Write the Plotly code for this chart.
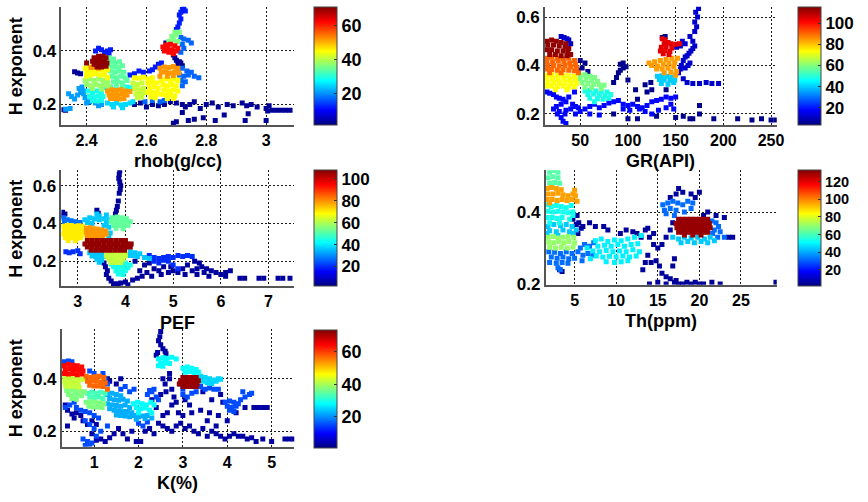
import plotly.graph_objects as go

# ---------------------------------------------------------------------------
# Cross-plots of the Hurst (H) exponent against five well logs.
# Each entry: (colour value, [(log value, H exponent), ...])
# ---------------------------------------------------------------------------

rhob_pts = [
    (3, [(2.32, 0.18), (2.33, 0.178), (2.36, 0.322), (2.37, 0.318), (2.38, 0.315),
         (2.665, 0.43), (2.68, 0.435), (2.69, 0.385), (2.695, 0.375), (2.70, 0.365), (2.71, 0.36),
         (2.715, 0.355), (2.705, 0.35), (2.72, 0.345),
         (2.56, 0.2), (2.58, 0.205), (2.60, 0.19), (2.62, 0.2), (2.64, 0.195), (2.66, 0.2), (2.68, 0.21),
         (2.70, 0.205), (2.72, 0.2), (2.73, 0.19), (2.745, 0.2), (2.76, 0.21), (2.78, 0.185), (2.80, 0.2),
         (2.82, 0.205), (2.84, 0.19), (2.87, 0.2), (2.89, 0.195), (2.92, 0.205), (2.935, 0.195), (2.95, 0.2),
         (2.94, 0.165), (2.97, 0.19), (3.0, 0.185), (3.01, 0.195), (3.02, 0.178), (3.035, 0.178),
         (3.05, 0.178), (3.065, 0.178), (3.08, 0.178), (3.005, 0.175),
         (2.69, 0.13), (2.70, 0.135), (2.72, 0.17), (2.74, 0.14), (2.76, 0.145), (2.79, 0.15),
         (2.83, 0.14), (2.86, 0.16), (2.93, 0.14), (3.0, 0.14)]),
    (12, [(2.43, 0.40), (2.44, 0.41), (2.45, 0.405), (2.46, 0.395), (2.47, 0.40), (2.48, 0.405),
          (2.475, 0.39), (2.70, 0.48), (2.705, 0.49), (2.71, 0.505), (2.715, 0.52), (2.71, 0.535),
          (2.715, 0.545), (2.72, 0.555), (2.725, 0.56), (2.73, 0.55),
          (2.62, 0.33), (2.63, 0.34), (2.64, 0.35), (2.65, 0.355), (2.61, 0.325), (2.575, 0.325),
          (2.59, 0.32), (2.56, 0.315), (2.545, 0.31)]),
    (17, [(2.715, 0.45), (2.725, 0.445), (2.74, 0.44), (2.75, 0.43), (2.72, 0.425), (2.725, 0.41),
          (2.715, 0.395), (2.705, 0.33), (2.72, 0.335), (2.735, 0.325), (2.75, 0.32), (2.71, 0.31),
          (2.725, 0.305), (2.74, 0.31), (2.76, 0.305), (2.775, 0.3), (2.715, 0.29), (2.73, 0.285),
          (2.72, 0.27), (2.62, 0.215), (2.645, 0.21), (2.66, 0.215), (2.595, 0.21)]),
    (21, [(2.33, 0.182), (2.345, 0.185), (2.36, 0.22), (2.37, 0.235), (2.38, 0.245), (2.39, 0.25),
          (2.385, 0.265), (2.375, 0.26), (2.39, 0.24), (2.395, 0.225), (2.34, 0.24), (2.35, 0.23),
          (2.40, 0.205), (2.41, 0.21), (2.43, 0.205), (2.45, 0.2), (2.44, 0.195)]),
    (25, [(2.47, 0.205), (2.485, 0.2), (2.50, 0.205), (2.515, 0.198), (2.53, 0.2), (2.545, 0.205),
          (2.555, 0.21), (2.49, 0.19), (2.52, 0.188)]),
    (29, [(2.405, 0.25), (2.42, 0.245), (2.435, 0.25), (2.45, 0.245), (2.41, 0.23), (2.425, 0.228),
          (2.44, 0.232), (2.455, 0.23), (2.465, 0.262), (2.48, 0.265), (2.42, 0.215), (2.435, 0.213),
          (2.45, 0.215), (2.535, 0.265), (2.55, 0.262)]),
    (34, [(2.475, 0.375), (2.49, 0.37), (2.48, 0.36), (2.495, 0.355), (2.51, 0.36), (2.475, 0.345),
          (2.49, 0.34), (2.505, 0.34), (2.52, 0.345), (2.48, 0.325), (2.495, 0.32), (2.51, 0.325),
          (2.525, 0.32), (2.485, 0.305), (2.50, 0.30), (2.515, 0.305), (2.53, 0.30), (2.49, 0.285),
          (2.505, 0.285), (2.52, 0.28), (2.535, 0.29), (2.50, 0.27), (2.52, 0.265)]),
    (36, [(2.675, 0.435), (2.69, 0.44), (2.705, 0.435), (2.685, 0.455), (2.70, 0.46), (2.71, 0.47),
          (2.695, 0.47)]),
    (38, [(2.395, 0.29), (2.41, 0.295), (2.425, 0.29), (2.44, 0.295), (2.455, 0.29), (2.47, 0.285),
          (2.40, 0.275), (2.415, 0.27), (2.43, 0.275), (2.445, 0.27), (2.46, 0.272), (2.475, 0.268),
          (2.42, 0.26), (2.45, 0.258)]),
    (41, [(2.555, 0.28), (2.57, 0.275), (2.585, 0.28), (2.56, 0.26), (2.575, 0.255), (2.59, 0.26),
          (2.565, 0.24), (2.58, 0.24), (2.595, 0.245), (2.57, 0.225), (2.585, 0.228)]),
    (45, [(2.395, 0.335), (2.41, 0.34), (2.40, 0.32), (2.415, 0.325), (2.43, 0.33), (2.445, 0.33),
          (2.46, 0.325), (2.47, 0.33), (2.40, 0.305), (2.415, 0.31), (2.43, 0.315), (2.445, 0.31),
          (2.46, 0.31), (2.47, 0.30),
          (2.56, 0.30), (2.575, 0.298), (2.59, 0.302), (2.605, 0.295), (2.62, 0.30), (2.605, 0.28),
          (2.62, 0.283), (2.635, 0.28), (2.61, 0.262), (2.625, 0.265), (2.64, 0.26), (2.605, 0.245),
          (2.62, 0.245), (2.635, 0.242), (2.615, 0.228), (2.63, 0.225), (2.65, 0.29), (2.665, 0.295),
          (2.68, 0.29), (2.695, 0.295), (2.705, 0.29), (2.655, 0.275), (2.67, 0.27), (2.685, 0.275),
          (2.70, 0.27), (2.66, 0.255), (2.675, 0.25), (2.69, 0.255), (2.705, 0.25), (2.65, 0.238),
          (2.665, 0.235), (2.68, 0.238), (2.695, 0.232), (2.67, 0.222), (2.69, 0.222)]),
    (52, [(2.415, 0.338), (2.43, 0.34), (2.44, 0.335),
          (2.47, 0.25), (2.485, 0.255), (2.50, 0.252), (2.515, 0.255), (2.53, 0.25), (2.545, 0.248),
          (2.475, 0.235), (2.49, 0.238), (2.505, 0.235), (2.52, 0.24), (2.535, 0.235), (2.48, 0.222),
          (2.495, 0.222), (2.51, 0.22), (2.525, 0.222),
          (2.645, 0.335), (2.66, 0.34), (2.675, 0.338), (2.69, 0.342), (2.705, 0.335), (2.65, 0.32),
          (2.665, 0.322), (2.68, 0.318), (2.695, 0.322), (2.708, 0.318), (2.645, 0.305), (2.67, 0.305),
          (2.69, 0.308)]),
    (62, [(2.655, 0.415), (2.665, 0.422), (2.68, 0.425), (2.695, 0.42), (2.705, 0.41), (2.67, 0.408),
          (2.685, 0.405), (2.70, 0.40), (2.66, 0.40), (2.675, 0.395), (2.69, 0.39)]),
    (70, [(2.425, 0.375), (2.44, 0.38), (2.455, 0.38), (2.465, 0.375), (2.42, 0.362), (2.433, 0.365),
          (2.447, 0.365), (2.46, 0.362), (2.468, 0.355), (2.425, 0.35), (2.44, 0.35), (2.455, 0.35),
          (2.435, 0.34), (2.45, 0.34), (2.465, 0.343), (2.40, 0.355)]),
]

gr_pts = [
    (5, [(48, 0.38), (52, 0.39), (55, 0.41), (58, 0.375), (50, 0.42), (85, 0.33), (88, 0.35), (90, 0.37),
         (92, 0.38), (95, 0.39), (92, 0.405), (95, 0.41), (98, 0.395), (100, 0.34), (85, 0.2), (110, 0.26),
         (120, 0.29), (125, 0.3), (110, 0.18), (130, 0.19), (150, 0.185), (165, 0.18), (175, 0.2),
         (190, 0.18), (215, 0.18), (230, 0.175), (240, 0.18), (250, 0.175), (255, 0.175), (100, 0.18),
         (175, 0.235), (108, 0.3), (118, 0.32), (124, 0.33), (140, 0.3), (158, 0.19), (168, 0.18),
         (136, 0.515), (139, 0.52)]),
    (12, [(30, 0.52), (33, 0.515), (36, 0.51), (38, 0.505), (40, 0.49),
          (153, 0.37), (155, 0.385), (156, 0.40), (158, 0.42), (160, 0.435), (162, 0.44), (164, 0.45),
          (166, 0.46), (168, 0.47), (170, 0.48), (168, 0.50), (165, 0.52), (170, 0.54), (172, 0.56),
          (170, 0.58), (173, 0.60), (171, 0.62), (174, 0.635), (157, 0.5), (160, 0.49), (155, 0.48),
          (151, 0.475), (158, 0.345), (162, 0.33), (168, 0.325), (175, 0.325), (182, 0.33), (188, 0.325),
          (195, 0.325), (160, 0.39), (163, 0.40), (165, 0.41)]),
    (18, [(15, 0.29), (18, 0.285), (22, 0.28), (25, 0.27), (28, 0.265), (32, 0.26), (35, 0.25), (30, 0.24),
          (25, 0.23), (22, 0.22), (28, 0.21), (35, 0.215), (40, 0.22), (45, 0.23), (48, 0.225), (42, 0.24),
          (38, 0.27), (44, 0.29), (34, 0.2), (30, 0.185), (32, 0.17), (35, 0.16), (26, 0.2), (45, 0.2),
          (50, 0.21), (55, 0.22), (60, 0.23), (65, 0.24), (70, 0.225), (75, 0.235), (80, 0.245), (85, 0.25),
          (90, 0.255), (95, 0.24), (100, 0.235), (105, 0.24), (110, 0.23), (115, 0.225), (120, 0.235),
          (125, 0.25), (130, 0.255), (135, 0.26), (140, 0.27), (145, 0.265), (150, 0.27), (60, 0.2),
          (70, 0.195), (95, 0.22), (102, 0.215), (112, 0.22), (118, 0.21), (125, 0.2), (132, 0.215),
          (140, 0.225), (145, 0.24), (148, 0.22)]),
    (40, [(131, 0.355), (136, 0.358), (141, 0.355), (146, 0.35), (133, 0.342), (138, 0.34), (144, 0.338),
          (149, 0.34), (135, 0.325), (142, 0.322), (148, 0.33)]),
    (48, [(55, 0.295), (60, 0.298), (66, 0.295), (72, 0.292), (78, 0.29), (58, 0.28), (64, 0.282),
          (70, 0.278), (76, 0.275), (82, 0.28), (60, 0.265), (68, 0.262), (74, 0.26), (80, 0.265), (65, 0.25)]),
    (59, [(50, 0.36), (55, 0.362), (60, 0.355), (65, 0.35), (50, 0.345), (56, 0.342), (62, 0.34), (68, 0.335),
          (52, 0.33), (58, 0.325), (64, 0.322), (70, 0.32), (75, 0.318), (55, 0.31), (62, 0.308), (72, 0.305)]),
    (73, [(15, 0.36), (20, 0.362), (26, 0.36), (32, 0.36), (38, 0.358), (44, 0.355), (15, 0.345), (21, 0.345),
          (27, 0.343), (33, 0.345), (39, 0.342), (45, 0.34), (16, 0.33), (22, 0.33), (28, 0.328), (34, 0.33),
          (40, 0.327), (46, 0.325), (15, 0.315), (20, 0.315), (26, 0.312), (32, 0.315), (38, 0.31),
          (44, 0.312), (24, 0.3), (36, 0.3)]),
    (84, [(122, 0.41), (128, 0.415), (134, 0.42), (140, 0.425), (146, 0.43), (152, 0.43), (125, 0.40),
          (131, 0.398), (137, 0.405), (143, 0.41), (149, 0.412), (130, 0.385), (136, 0.385), (142, 0.39),
          (148, 0.395), (138, 0.37), (145, 0.372), (151, 0.375), (150, 0.36)]),
    (90, [(15, 0.43), (20, 0.435), (26, 0.43), (32, 0.428), (38, 0.43), (44, 0.42), (15, 0.415), (21, 0.415),
          (27, 0.418), (33, 0.415), (39, 0.41), (45, 0.405), (16, 0.40), (22, 0.40), (28, 0.398), (34, 0.40),
          (40, 0.395), (46, 0.39), (15, 0.385), (20, 0.383), (26, 0.38), (32, 0.382), (38, 0.38), (44, 0.378),
          (18, 0.37), (30, 0.37), (48, 0.37)]),
    (104, [(136, 0.51), (139, 0.505), (142, 0.495), (138, 0.49), (145, 0.49), (150, 0.488), (154, 0.49),
           (135, 0.475), (140, 0.478), (146, 0.472), (134, 0.46), (139, 0.462), (144, 0.458), (137, 0.448),
           (143, 0.445)]),
    (113, [(15, 0.50), (20, 0.505), (25, 0.50), (30, 0.495), (35, 0.49), (16, 0.485), (22, 0.485),
           (28, 0.48), (34, 0.475), (38, 0.47), (15, 0.465), (20, 0.465), (26, 0.46), (32, 0.46), (37, 0.455),
           (18, 0.445), (24, 0.445), (30, 0.44), (36, 0.44), (40, 0.445)]),
]

pef_pts = [
    (5, [(2.68, 0.46), (2.73, 0.45), (2.70, 0.44), (3.4, 0.47), (3.43, 0.455), (3.79, 0.45), (3.81, 0.47),
         (3.83, 0.49), (3.85, 0.52), (3.87, 0.56), (3.89, 0.58), (3.90, 0.60), (3.88, 0.62), (3.86, 0.64),
         (3.87, 0.66), (3.88, 0.68),
         (3.55, 0.19), (3.58, 0.17), (3.62, 0.15), (3.60, 0.13), (3.65, 0.11), (3.70, 0.095), (3.75, 0.08),
         (3.80, 0.075), (3.85, 0.08), (3.90, 0.085), (4.0, 0.09), (4.05, 0.075), (4.15, 0.10), (4.25, 0.11),
         (4.35, 0.12), (4.45, 0.14),
         (4.2, 0.2), (4.4, 0.18), (4.5, 0.19), (4.6, 0.16), (4.7, 0.15), (4.8, 0.17), (4.9, 0.14), (5.0, 0.15),
         (5.1, 0.14), (5.2, 0.16), (5.3, 0.18), (5.4, 0.15), (5.5, 0.16), (5.6, 0.17), (5.7, 0.16), (5.5, 0.13),
         (5.65, 0.14), (5.8, 0.15), (5.9, 0.14), (6.0, 0.13), (6.1, 0.14), (6.2, 0.15), (6.1, 0.12),
         (6.4, 0.11), (6.5, 0.11), (6.8, 0.11), (6.9, 0.11), (7.2, 0.11), (7.3, 0.11), (7.45, 0.11),
         (4.3, 0.15), (4.55, 0.12), (4.75, 0.13), (5.25, 0.13), (5.75, 0.12), (4.95, 0.17), (5.45, 0.2),
         (5.55, 0.19)]),
    (20, [(2.75, 0.25), (2.82, 0.245), (2.90, 0.25), (3.0, 0.255), (3.05, 0.24),
          (4.5, 0.23), (4.6, 0.22), (4.7, 0.215), (4.8, 0.22), (4.9, 0.225), (5.0, 0.22), (5.1, 0.23),
          (5.2, 0.225), (5.3, 0.23), (5.4, 0.225), (4.6, 0.20), (4.7, 0.19), (4.8, 0.205), (4.9, 0.20),
          (5.0, 0.18), (5.1, 0.16)]),
    (27, [(2.70, 0.43), (2.78, 0.42), (2.86, 0.415), (2.95, 0.41), (3.05, 0.405), (2.72, 0.41), (2.90, 0.40)]),
    (36, [(3.15, 0.42), (3.25, 0.43), (3.35, 0.425), (3.45, 0.42), (3.55, 0.425), (3.65, 0.42), (3.2, 0.405),
          (3.3, 0.40), (3.6, 0.40), (3.65, 0.38), (3.55, 0.39), (3.45, 0.44), (3.4, 0.45), (3.6, 0.445),
          (3.65, 0.33), (3.62, 0.31), (3.68, 0.35),
          (3.25, 0.245), (3.33, 0.248), (3.41, 0.245), (3.5, 0.24), (3.3, 0.228), (3.38, 0.225), (3.46, 0.23),
          (3.55, 0.225), (3.4, 0.21), (3.5, 0.205), (3.45, 0.195),
          (4.1, 0.25), (4.2, 0.245), (4.3, 0.24), (4.15, 0.23), (4.25, 0.225), (4.4, 0.22), (4.5, 0.215),
          (4.05, 0.23)]),
    (44, [(3.7, 0.185), (3.8, 0.19), (3.9, 0.185), (4.0, 0.19), (4.1, 0.18), (3.75, 0.17), (3.85, 0.168),
          (3.95, 0.17), (4.05, 0.165), (3.8, 0.15), (3.9, 0.148), (4.0, 0.15), (3.85, 0.132), (3.95, 0.13)]),
    (52, [(3.72, 0.43), (3.82, 0.435), (3.92, 0.43), (4.02, 0.425), (3.70, 0.41), (3.80, 0.412), (3.90, 0.41),
          (4.0, 0.405), (4.1, 0.41), (3.75, 0.39), (3.85, 0.39), (3.95, 0.388), (4.05, 0.39), (3.8, 0.375),
          (3.95, 0.372)]),
    (62, [(3.62, 0.245), (3.72, 0.245), (3.82, 0.245), (3.92, 0.245), (4.0, 0.245), (3.60, 0.228),
          (3.70, 0.228), (3.80, 0.228), (3.90, 0.228), (4.0, 0.228), (3.65, 0.21), (3.75, 0.21), (3.85, 0.21),
          (3.95, 0.21), (3.70, 0.193), (3.80, 0.193), (3.90, 0.193)]),
    (70, [(2.70, 0.385), (2.78, 0.39), (2.86, 0.39), (2.94, 0.385), (3.02, 0.388), (3.10, 0.385), (2.72, 0.365),
          (2.80, 0.368), (2.88, 0.365), (2.96, 0.37), (3.04, 0.365), (3.12, 0.362), (2.70, 0.345), (2.78, 0.345),
          (2.86, 0.348), (2.94, 0.345), (3.02, 0.342), (3.10, 0.345), (2.74, 0.325), (2.82, 0.328), (2.90, 0.325),
          (2.98, 0.322), (3.06, 0.325), (2.80, 0.31), (2.95, 0.308)]),
    (79, [(3.18, 0.375), (3.26, 0.378), (3.34, 0.372), (3.42, 0.37), (3.50, 0.365), (3.58, 0.36), (3.18, 0.355),
          (3.26, 0.355), (3.34, 0.352), (3.42, 0.35), (3.50, 0.348), (3.60, 0.345), (3.20, 0.335), (3.28, 0.335),
          (3.36, 0.332), (3.44, 0.33), (3.52, 0.33), (3.22, 0.318), (3.32, 0.315)]),
    (106, [(3.2, 0.31), (3.3, 0.31), (3.4, 0.31), (3.5, 0.31), (3.6, 0.31), (3.7, 0.31), (3.8, 0.31), (3.9, 0.31),
           (4.0, 0.31), (3.15, 0.292), (3.25, 0.292), (3.35, 0.292), (3.45, 0.292), (3.55, 0.292), (3.65, 0.292),
           (3.75, 0.292), (3.85, 0.292), (3.95, 0.292), (4.05, 0.292), (4.12, 0.292), (3.2, 0.275), (3.3, 0.275),
           (3.4, 0.275), (3.5, 0.275), (3.6, 0.275), (3.7, 0.275), (3.8, 0.275), (3.9, 0.275), (4.0, 0.275),
           (4.1, 0.275), (3.28, 0.258), (3.38, 0.258), (3.48, 0.258), (3.58, 0.258), (3.68, 0.258), (3.78, 0.258),
           (3.88, 0.258), (3.98, 0.258)]),
]

th_pts = [
    (5, [(4.8, 0.38), (5.3, 0.39), (5.2, 0.365), (5.5, 0.37), (5.8, 0.355), (6.0, 0.36), (5.4, 0.34),
         (6.8, 0.37), (7.5, 0.36), (8.5, 0.36), (9.0, 0.35), (10.5, 0.34), (11.2, 0.35), (12.0, 0.345),
         (12.5, 0.34), (13.0, 0.33), (13.5, 0.35), (14.0, 0.33), (14.5, 0.31), (13.8, 0.28), (13.5, 0.26),
         (13.2, 0.24), (14.2, 0.26), (14.8, 0.265), (15.2, 0.25), (15.5, 0.23), (16.0, 0.22), (15.0, 0.30),
         (15.5, 0.31), (16.0, 0.33), (16.5, 0.35), (16.8, 0.37), (16.5, 0.44), (17.2, 0.45), (18.0, 0.455),
         (19.0, 0.45), (20.0, 0.455), (17.5, 0.465), (19.5, 0.44), (20.5, 0.39), (21.0, 0.40), (22.0, 0.39),
         (23.0, 0.385), (24.0, 0.33), (23.5, 0.33), (14.0, 0.20), (15.0, 0.205), (16.0, 0.20), (17.0, 0.205),
         (17.5, 0.20), (18.0, 0.20), (18.5, 0.205), (19.0, 0.20), (19.5, 0.205), (20.0, 0.20), (20.5, 0.20),
         (21.5, 0.205), (22.5, 0.20), (29.2, 0.205), (16.5, 0.215), (17.2, 0.21), (3.2, 0.24), (3.5, 0.235),
         (16.8, 0.25), (17.0, 0.27), (14.5, 0.34), (13.8, 0.355)]),
    (32, [(1.9, 0.29), (2.6, 0.288), (3.3, 0.285), (4.0, 0.29), (4.7, 0.285), (5.4, 0.29), (2.2, 0.275),
          (2.9, 0.272), (3.6, 0.275), (4.3, 0.27), (5.0, 0.272), (2.0, 0.26), (2.8, 0.258), (3.5, 0.26),
          (4.2, 0.258), (3.0, 0.245), (3.3, 0.24), (5.7, 0.30), (6.2, 0.31), (6.8, 0.305), (7.3, 0.315),
          (6.0, 0.28), (6.6, 0.285), (7.2, 0.28), (5.9, 0.265),
          (15.6, 0.42), (16.2, 0.425), (16.8, 0.43), (17.4, 0.425), (18.0, 0.42), (18.6, 0.43), (19.2, 0.425),
          (15.8, 0.405), (16.5, 0.41), (17.2, 0.405), (18.2, 0.40), (19.0, 0.41), (16.0, 0.395), (17.0, 0.39),
          (21.5, 0.375), (22.0, 0.37), (22.3, 0.36), (21.8, 0.35), (22.5, 0.345), (21.6, 0.34), (23.0, 0.33),
          (22.2, 0.33)]),
    (44, [(1.8, 0.36), (2.5, 0.365), (3.3, 0.362), (4.0, 0.365), (4.7, 0.36), (2.0, 0.348), (2.8, 0.345),
          (3.6, 0.35), (4.4, 0.345), (5.2, 0.35), (1.7, 0.34), (3.0, 0.335), (4.8, 0.34),
          (17.5, 0.325), (18.2, 0.33), (19.0, 0.328), (19.8, 0.33), (20.6, 0.325), (21.3, 0.33), (17.8, 0.315),
          (18.6, 0.318), (19.4, 0.315), (20.2, 0.318), (21.0, 0.315), (21.8, 0.32), (16.8, 0.33)]),
    (49, [(7.5, 0.32), (8.2, 0.325), (9.0, 0.318), (9.8, 0.322), (10.6, 0.32), (11.4, 0.325), (12.2, 0.33),
          (13.0, 0.335), (7.8, 0.305), (8.6, 0.308), (9.4, 0.305), (10.2, 0.31), (11.0, 0.305), (11.8, 0.31),
          (12.6, 0.312), (7.2, 0.292), (8.0, 0.29), (8.8, 0.293), (9.6, 0.29), (10.4, 0.292), (11.2, 0.29),
          (12.0, 0.295), (12.8, 0.29), (7.6, 0.278), (8.4, 0.275), (9.2, 0.277), (10.0, 0.275), (10.8, 0.278),
          (11.6, 0.275), (12.4, 0.278), (8.8, 0.262), (9.8, 0.26), (10.6, 0.262), (11.4, 0.265), (6.5, 0.30),
          (6.9, 0.27)]),
    (53, [(1.7, 0.42), (2.2, 0.415), (2.8, 0.418), (3.4, 0.415), (4.0, 0.412), (4.6, 0.418), (1.8, 0.402),
          (2.4, 0.40), (3.0, 0.402), (3.6, 0.40), (4.2, 0.398), (4.8, 0.40), (1.7, 0.385), (2.3, 0.385),
          (2.9, 0.382), (3.5, 0.385), (4.4, 0.38), (2.0, 0.37), (3.2, 0.37), (4.8, 0.39)]),
    (62, [(2.0, 0.51), (2.6, 0.515), (3.0, 0.51), (1.8, 0.495), (2.4, 0.498), (3.0, 0.495), (2.0, 0.48),
          (2.6, 0.482), (3.2, 0.48), (2.3, 0.47)]),
    (70, [(1.8, 0.33), (2.4, 0.332), (3.0, 0.328), (3.6, 0.33), (4.2, 0.332), (4.9, 0.33), (1.9, 0.316),
          (2.5, 0.315), (3.1, 0.318), (3.7, 0.315), (4.3, 0.318), (5.0, 0.315), (2.0, 0.302), (2.7, 0.30),
          (3.4, 0.302), (4.1, 0.30), (4.8, 0.302)]),
    (96, [(1.7, 0.465), (2.2, 0.468), (2.8, 0.465), (3.4, 0.462), (1.8, 0.45), (2.4, 0.45), (3.0, 0.452),
          (3.6, 0.448), (4.2, 0.445), (4.8, 0.45), (1.7, 0.435), (2.3, 0.435), (2.9, 0.432), (3.5, 0.435),
          (4.1, 0.432), (4.7, 0.435), (5.3, 0.43), (5.1, 0.445), (5.0, 0.46), (2.0, 0.425)]),
    (130, [(17.5, 0.38), (18.0, 0.38), (18.5, 0.38), (19.0, 0.38), (19.5, 0.38), (20.0, 0.38), (20.5, 0.38),
           (21.0, 0.38), (17.2, 0.368), (17.7, 0.368), (18.2, 0.368), (18.7, 0.368), (19.2, 0.368),
           (19.7, 0.368), (20.2, 0.368), (20.7, 0.368), (21.2, 0.368), (17.3, 0.356), (17.8, 0.356),
           (18.3, 0.356), (18.8, 0.356), (19.3, 0.356), (19.8, 0.356), (20.3, 0.356), (20.8, 0.356),
           (21.3, 0.356), (17.5, 0.344), (18.0, 0.344), (18.5, 0.344), (19.0, 0.344), (19.5, 0.344),
           (20.0, 0.344), (20.5, 0.344), (21.0, 0.344), (18.2, 0.336), (19.2, 0.336), (20.2, 0.336)]),
]

k_pts = [
    (3, [(0.35, 0.30), (0.40, 0.28), (0.50, 0.265), (0.55, 0.25), (0.60, 0.27), (0.70, 0.26), (0.75, 0.24),
         (0.85, 0.225), (0.95, 0.24), (1.05, 0.225), (0.95, 0.19), (1.05, 0.165), (1.15, 0.17), (1.25, 0.16),
         (1.35, 0.175), (1.45, 0.19), (1.55, 0.21), (1.65, 0.19), (1.75, 0.17), (1.85, 0.20), (1.95, 0.16),
         (2.05, 0.16), (2.15, 0.20), (2.25, 0.21), (2.35, 0.19), (2.45, 0.23), (2.55, 0.22), (2.65, 0.21),
         (2.75, 0.20), (2.85, 0.22), (2.95, 0.23), (3.05, 0.21), (3.15, 0.22), (3.25, 0.20), (3.35, 0.19),
         (3.45, 0.21), (3.55, 0.18), (3.65, 0.20), (3.75, 0.19), (3.85, 0.18), (3.95, 0.17), (4.05, 0.18),
         (4.15, 0.19), (4.25, 0.18), (4.35, 0.18), (4.45, 0.17), (4.55, 0.175), (4.65, 0.16), (4.8, 0.17),
         (5.0, 0.16), (5.3, 0.17), (5.4, 0.17), (5.5, 0.17), (2.55, 0.26), (2.65, 0.27), (2.75, 0.30),
         (2.85, 0.31), (2.40, 0.29), (2.30, 0.32), (2.50, 0.34), (2.60, 0.38), (2.70, 0.40), (2.75, 0.36),
         (2.80, 0.33), (3.05, 0.32), (3.15, 0.30), (3.45, 0.35), (3.65, 0.32), (3.85, 0.34), (3.90, 0.31),
         (4.20, 0.27), (4.40, 0.29), (4.60, 0.29), (4.70, 0.29), (4.80, 0.29), (4.90, 0.29), (1.30, 0.40),
         (1.35, 0.39), (1.50, 0.38), (0.40, 0.22), (1.60, 0.40), (2.55, 0.40), (2.70, 0.42), (2.62, 0.35),
         (2.90, 0.27), (3.00, 0.26), (3.20, 0.27), (3.40, 0.28), (3.60, 0.27), (3.80, 0.26), (4.00, 0.24),
         (3.55, 0.24), (3.75, 0.22),
         (2.50, 0.58), (2.48, 0.56), (2.45, 0.545), (2.50, 0.53), (2.55, 0.515), (2.60, 0.505), (2.62, 0.495),
         (2.43, 0.50), (2.40, 0.49)]),
    (15, [(0.33, 0.465), (0.42, 0.468), (0.50, 0.465),
          (2.2, 0.34), (2.3, 0.35), (2.35, 0.36), (2.25, 0.355), (2.4, 0.33), (2.45, 0.32), (1.8, 0.35),
          (1.9, 0.36), (1.7, 0.37), (1.6, 0.36), (1.3, 0.38), (1.25, 0.395), (1.2, 0.42), (1.0, 0.42),
          (0.9, 0.43), (0.35, 0.29), (0.45, 0.30), (0.55, 0.31), (0.6, 0.29), (0.7, 0.28), (0.8, 0.275),
          (0.9, 0.27), (1.0, 0.26), (1.1, 0.25), (0.8, 0.24), (0.9, 0.225), (1.0, 0.21), (0.75, 0.17),
          (0.85, 0.16), (0.95, 0.155), (0.8, 0.145), (0.9, 0.15), (1.05, 0.18), (1.15, 0.20), (1.3, 0.22),
          (2.0, 0.23), (2.1, 0.22), (2.2, 0.235), (3.0, 0.34), (3.1, 0.33), (3.2, 0.345), (3.3, 0.35),
          (3.4, 0.37), (3.5, 0.36), (3.6, 0.365), (3.7, 0.36), (3.8, 0.36), (3.0, 0.36), (2.95, 0.38),
          (3.95, 0.31), (4.05, 0.315), (4.15, 0.31), (4.25, 0.305), (4.0, 0.295), (4.1, 0.29), (4.2, 0.295),
          (4.05, 0.28), (4.15, 0.275), (4.3, 0.32), (4.4, 0.33), (4.5, 0.34), (4.55, 0.345), (4.35, 0.35)]),
    (22, [(1.3, 0.34), (1.4, 0.345), (1.5, 0.34), (1.6, 0.335), (1.35, 0.325), (1.45, 0.32), (1.55, 0.318),
          (1.65, 0.322), (1.75, 0.315), (1.3, 0.305), (1.4, 0.30), (1.5, 0.298), (1.6, 0.295), (1.7, 0.30),
          (1.8, 0.29), (1.35, 0.285), (1.45, 0.28), (1.55, 0.278), (1.65, 0.275), (1.75, 0.275), (1.85, 0.27),
          (1.5, 0.262), (1.6, 0.26), (1.7, 0.258), (1.8, 0.255), (1.9, 0.26), (2.0, 0.255), (2.1, 0.258),
          (2.2, 0.26), (1.95, 0.245), (2.15, 0.248), (2.3, 0.25)]),
    (25, [(3.4, 0.41), (3.5, 0.405), (3.6, 0.40), (3.7, 0.395), (3.8, 0.40), (3.45, 0.39), (3.55, 0.385),
          (3.65, 0.382), (3.75, 0.39), (3.85, 0.398)]),
    (28, [(1.88, 0.305), (1.98, 0.31), (2.08, 0.305), (2.18, 0.30), (2.28, 0.31), (1.95, 0.29), (2.05, 0.285),
          (2.15, 0.288), (2.25, 0.28), (2.35, 0.30), (2.0, 0.27), (2.3, 0.27),
          (2.45, 0.475), (2.55, 0.48), (2.65, 0.478), (2.75, 0.482), (2.85, 0.475), (2.5, 0.46), (2.6, 0.462),
          (2.7, 0.458), (2.45, 0.45), (2.55, 0.448),
          (3.0, 0.44), (3.1, 0.445), (3.2, 0.44), (3.3, 0.435), (3.05, 0.425), (3.15, 0.428), (3.25, 0.42),
          (3.35, 0.425)]),
    (33, [(0.85, 0.345), (0.95, 0.348), (1.05, 0.345), (1.15, 0.348), (1.25, 0.345), (0.9, 0.33), (1.0, 0.328),
          (1.1, 0.33), (1.2, 0.325)]),
    (37, [(0.38, 0.355), (0.48, 0.358), (0.58, 0.355), (0.68, 0.352), (0.78, 0.35), (0.42, 0.34), (0.52, 0.338),
          (0.62, 0.34), (0.72, 0.335), (0.5, 0.325), (0.6, 0.322), (0.82, 0.31), (0.92, 0.312), (1.02, 0.31),
          (1.12, 0.308), (1.22, 0.305), (0.88, 0.295), (0.98, 0.292), (1.08, 0.292), (1.18, 0.29)]),
    (42, [(0.34, 0.405), (0.44, 0.402), (0.54, 0.405), (0.64, 0.40), (0.74, 0.398), (0.34, 0.388), (0.44, 0.385),
          (0.54, 0.388), (0.64, 0.385), (0.36, 0.372), (0.46, 0.37), (0.56, 0.372), (0.66, 0.368)]),
    (57, [(0.82, 0.41), (0.92, 0.405), (1.02, 0.408), (1.12, 0.41), (1.22, 0.405), (0.85, 0.39), (0.95, 0.392),
          (1.05, 0.39), (1.15, 0.388), (1.25, 0.385), (0.9, 0.375), (1.0, 0.372), (1.1, 0.372), (1.2, 0.37),
          (1.3, 0.36)]),
    (64, [(0.32, 0.45), (0.42, 0.455), (0.52, 0.452), (0.62, 0.45), (0.72, 0.445), (0.35, 0.435), (0.45, 0.438),
          (0.55, 0.435), (0.65, 0.432), (0.75, 0.43), (0.32, 0.42), (0.42, 0.418), (0.52, 0.42), (0.62, 0.415),
          (0.72, 0.418)]),
    (72, [(3.0, 0.405), (3.1, 0.405), (3.2, 0.405), (3.3, 0.405), (2.95, 0.392), (3.05, 0.392), (3.15, 0.392),
          (3.25, 0.392), (3.35, 0.392), (2.92, 0.38), (3.02, 0.38), (3.12, 0.38), (3.22, 0.38), (3.32, 0.38),
          (3.0, 0.37), (3.1, 0.37), (3.2, 0.37), (3.3, 0.37)]),
]

# Axis ticks and colour-bar ticks
h_ticks_2 = [0.2, 0.4]
h_ticks_3 = [0.2, 0.4, 0.6]
rhob_ticks, rhob_labels = [2.4, 2.6, 2.8, 3.0], ["2.4", "2.6", "2.8", "3"]
gr_ticks = [50, 100, 150, 200, 250]
pef_ticks = [3, 4, 5, 6, 7]
th_ticks = [5, 10, 15, 20, 25]
k_ticks = [1, 2, 3, 4, 5]
cbar_ticks_60 = [20, 40, 60]
cbar_ticks_100 = [20, 40, 60, 80, 100]
cbar_ticks_120 = [20, 40, 60, 80, 100, 120]

# MATLAB-style jet colour map
JET = [[0.0, "rgb(0,0,128)"], [0.125, "rgb(0,0,255)"], [0.375, "rgb(0,255,255)"],
       [0.625, "rgb(255,255,0)"], [0.875, "rgb(255,0,0)"], [1.0, "rgb(128,0,0)"]]

W, H = 868, 502
FAM = "Liberation Sans, Arial, sans-serif"
XTICKFONT = dict(family=FAM, size=16, color="black", weight="bold")
YTICKFONT = dict(family=FAM, size=17, color="black", weight="bold")
TITLEFONT = dict(family=FAM, size=18, color="black", weight="bold")

# box = (left, right, top, bottom) in pixels; cbar = (left, top, bottom, label size) in pixels
panels = [
    dict(pts=rhob_pts, title="rhob(g/cc)", ylab=True, xr=[2.316, 3.094], yr=[0.123, 0.565],
         xt=rhob_ticks, xl=rhob_labels, yt=h_ticks_2, cr=[1.5, 71], ct=cbar_ticks_60,
         box=(62, 297, 7, 127.3), cbar=(316.7, 7.3, 127.7, 18)),
    dict(pts=gr_pts, title="GR(API)", ylab=False, xr=[13, 256], yr=[0.154, 0.642],
         xt=gr_ticks, xl=None, yt=h_ticks_3, cr=[3.7, 115], ct=cbar_ticks_100,
         box=(550, 784, 7, 127.3), cbar=(805, 7.3, 127.7, 17)),
    dict(pts=pef_pts, title="PEF", ylab=True, xr=[2.657, 7.54], yr=[0.066, 0.683],
         xt=pef_ticks, xl=None, yt=h_ticks_3, cr=[2, 108], ct=cbar_ticks_100,
         box=(62, 297, 173.3, 291.7), cbar=(317.3, 173.3, 291.7, 17)),
    dict(pts=th_pts, title="Th(ppm)", ylab=False, xr=[1.52, 29.3], yr=[0.198, 0.516],
         xt=th_ticks, xl=None, yt=h_ticks_2, cr=[1.5, 133], ct=cbar_ticks_120,
         box=(550.7, 784, 173.3, 290), cbar=(805, 173.3, 291.7, 14.5)),
    dict(pts=k_pts, title="K(%)", ylab=True, xr=[0.27, 5.51], yr=[0.14, 0.59],
         xt=k_ticks, xl=None, yt=h_ticks_2, cr=[0.5, 73.6], ct=cbar_ticks_60,
         box=(62.3, 297, 335, 455), cbar=(316.7, 336, 456, 18)),
]

fig = go.Figure()
annotations = []
for i, p in enumerate(panels, start=1):
    sfx = "" if i == 1 else str(i)
    # flatten and draw low values first so the warm clusters sit on top
    pts = sorted(((x, y, c) for c, grp in p["pts"] for x, y in grp), key=lambda t: t[2])
    xs, ys, cs = zip(*pts)
    fig.add_trace(go.Scatter(
        x=xs, y=ys, mode="markers", xaxis="x" + sfx, yaxis="y" + sfx,
        marker=dict(symbol="square", size=5, color=cs, coloraxis="coloraxis" + sfx, line=dict(width=0)),
        showlegend=False, hoverinfo="skip"))

    left, right, top, bottom = p["box"]
    axis_common = dict(showgrid=True, gridcolor="#1a1a1a", gridwidth=1, griddash="2px,2px",
                       showline=True, linecolor="#555", linewidth=1.5, ticks="", zeroline=False,
                       fixedrange=True)
    xaxis = dict(domain=[left / W, right / W], anchor="y" + sfx, range=p["xr"], tickmode="array",
                 tickvals=p["xt"], tickfont=XTICKFONT, **axis_common)
    if p["xl"]:
        xaxis["ticktext"] = p["xl"]
    yaxis = dict(domain=[1 - bottom / H, 1 - top / H], anchor="x" + sfx, range=p["yr"],
                 tickmode="array", tickvals=p["yt"], ticktext=[f"{v:g}" for v in p["yt"]],
                 tickfont=YTICKFONT, **axis_common)

    cl, ct_, cb_, cfs = p["cbar"]
    coloraxis = dict(colorscale=JET, cmin=p["cr"][0], cmax=p["cr"][1],
                     colorbar=dict(x=cl / W, xanchor="left", xpad=0, y=1 - ct_ / H, yanchor="top", ypad=0,
                                   len=(cb_ - ct_) / H, lenmode="fraction", thickness=23,
                                   thicknessmode="pixels", outlinewidth=1, outlinecolor="#444",
                                   tickmode="array", tickvals=p["ct"], ticks="inside", ticklen=3,
                                   tickcolor="#333",
                                   tickfont=dict(family=FAM, size=cfs, color="black", weight="bold")))
    fig.update_layout(**{"xaxis" + sfx: xaxis, "yaxis" + sfx: yaxis, "coloraxis" + sfx: coloraxis})

    annotations.append(dict(text=p["title"], xref="paper", yref="paper", x=(left + right) / 2 / W,
                            y=1 - (bottom + 37) / H, xanchor="center", yanchor="middle",
                            showarrow=False, font=TITLEFONT))
    if p["ylab"]:
        annotations.append(dict(text="H exponent", xref="paper", yref="paper", x=16.5 / W,
                                y=1 - (top + bottom) / 2 / H, xanchor="center", yanchor="middle",
                                textangle=-90, showarrow=False, font=TITLEFONT))

fig.update_layout(width=W, height=H, margin=dict(l=0, r=0, t=0, b=0),
                  paper_bgcolor="white", plot_bgcolor="white", annotations=annotations)

fig.write_html("out.html")
